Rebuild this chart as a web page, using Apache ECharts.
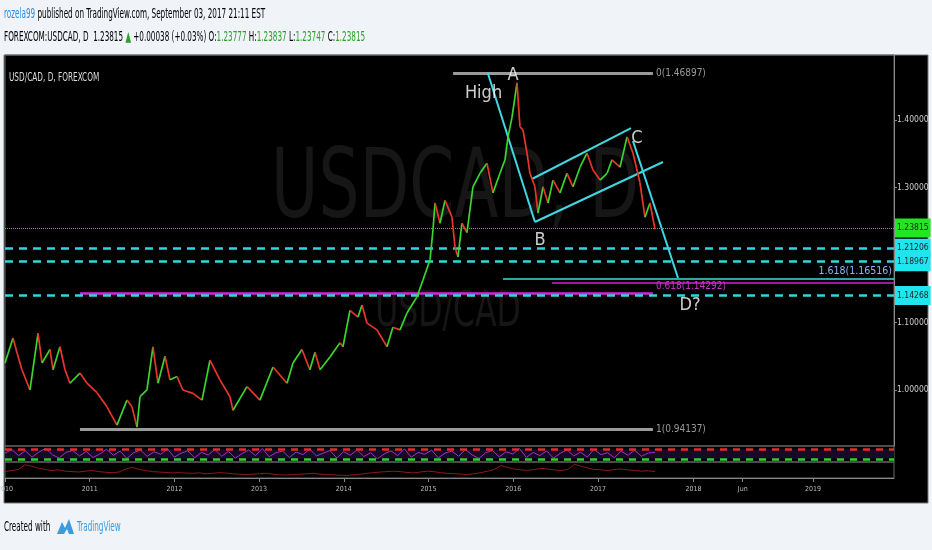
<!DOCTYPE html>
<html>
<head>
<meta charset="utf-8">
<script src="https://cdn.jsdelivr.net/npm/echarts@6/dist/echarts.min.js"></script>
<style>
html, body { margin: 0; padding: 0; background: #f0f3f7; }
#chart { width: 932px; height: 550px; }
</style>
</head>
<body>
<div id="chart"></div>
<script>
// 日线收盘价（按年份小数记时间，读图估计）
const priceDates = [2010.00, 2010.094, 2010.142, 2010.20, 2010.295, 2010.39, 2010.437, 2010.531, 2010.567, 2010.649,
  2010.708, 2010.767, 2010.885, 2010.968, 2011.086, 2011.204, 2011.322, 2011.44, 2011.50, 2011.558,
  2011.594, 2011.676, 2011.747, 2011.806, 2011.889, 2011.948, 2012.031, 2012.10, 2012.22, 2012.326,
  2012.42, 2012.538, 2012.656, 2012.692, 2012.857, 2013.01, 2013.164, 2013.33, 2013.40, 2013.506,
  2013.60, 2013.66, 2013.719, 2013.837, 2013.955, 2013.99, 2014.073, 2014.168, 2014.215, 2014.274,
  2014.392, 2014.51, 2014.58, 2014.664, 2014.746, 2014.864, 2014.935, 2015.018, 2015.053, 2015.077,
  2015.136, 2015.195, 2015.277, 2015.313, 2015.348, 2015.395, 2015.454, 2015.525, 2015.608, 2015.69,
  2015.761, 2015.844, 2015.903, 2015.939, 2015.986, 2016.045, 2016.08, 2016.116, 2016.163, 2016.198,
  2016.257, 2016.293, 2016.352, 2016.411, 2016.47, 2016.553, 2016.635, 2016.706, 2016.789, 2016.871,
  2016.942, 2017.025, 2017.108, 2017.167, 2017.261, 2017.344, 2017.414, 2017.497, 2017.556, 2017.615,
  2017.674]
const priceCloses = [1.040, 1.077, 1.055, 1.030, 1.000, 1.084, 1.040, 1.060, 1.030, 1.064,
  1.030, 1.010, 1.025, 1.010, 0.996, 0.975, 0.948, 0.985, 0.975, 0.945,
  0.990, 1.000, 1.064, 1.010, 1.050, 1.015, 1.020, 1.000, 0.995, 0.985,
  1.044, 1.015, 0.990, 0.970, 1.005, 0.985, 1.034, 1.010, 1.040, 1.060,
  1.030, 1.056, 1.030, 1.049, 1.070, 1.064, 1.118, 1.108, 1.126, 1.099,
  1.089, 1.064, 1.093, 1.089, 1.114, 1.138, 1.163, 1.193, 1.237, 1.277,
  1.247, 1.281, 1.256, 1.212, 1.197, 1.247, 1.233, 1.301, 1.321, 1.336,
  1.292, 1.321, 1.341, 1.375, 1.404, 1.455, 1.390, 1.385, 1.351, 1.321,
  1.301, 1.262, 1.301, 1.277, 1.311, 1.292, 1.321, 1.301, 1.330, 1.351,
  1.326, 1.311, 1.321, 1.341, 1.330, 1.375, 1.351, 1.307, 1.256, 1.277,
  1.23815]

// 时间轴刻度
const tickYears = [2010, 2011, 2012, 2013, 2014, 2015, 2016, 2017, 2018.13, 2018.71, 2019.54]
const tickLabels = ['2010', '2011', '2012', '2013', '2014', '2015', '2016', '2017', '2018', 'Jun', '2019']
const priceTicks = [1.0, 1.1, 1.3, 1.4]

// 右侧价格标签
const tagPrices = [1.23815, 1.21206, 1.18967, 1.14268]

// 斐波那契 / 画线
const fibStart = 2010.885
const fibTopStart = 2015.29
const fibEnd = 2017.65
const fibTop = 1.46897
const fibBottom = 0.94137
const fib618 = 1.14268
const extLevel = 1.16516
const extStart = 2015.88
const rayLevel = 1.1585
const rayStart = 2016.458
const trendLines = [
  [[2015.70, 1.4696], [2016.257, 1.2489]],
  [[2016.257, 1.2489], [2017.768, 1.3378]],
  [[2016.222, 1.3126], [2017.391, 1.3881]],
  [[2017.414, 1.3689], [2017.946, 1.1659]]
]
const waveNames = ['High', 'A', 'B', 'C', 'D?']
const waveX = [2015.65, 2015.998, 2016.317, 2017.461, 2018.087]
const waveY = [1.440, 1.4667, 1.2222, 1.3733, 1.1259]

// 指标
const oscValues = [55, 78, 40, 70, 30, 62, 85, 45, 25, 60, 72, 38, 66, 28, 50, 80, 42, 68, 22, 58,
  75, 35, 64, 48, 82, 30, 55, 70, 26, 60, 44, 78, 36, 66, 24, 52, 74, 40, 85, 33,
  58, 68, 28, 62, 46, 80, 38, 55, 72, 25, 64, 42, 76, 34, 58, 20, 50, 70, 40, 82,
  30, 60, 48, 74, 26, 56, 68, 36, 78, 44, 22, 58, 72, 32, 64, 50, 84, 28, 60, 40,
  70, 24, 54, 76, 38, 62, 30, 80, 46, 58, 26, 68, 42, 74, 36, 56, 60]
const lowerValues = [50, 55, 60, 82, 75, 66, 60, 55, 58, 52, 50, 48, 52, 55, 50, 47, 45, 48, 62, 70,
  60, 55, 50, 48, 46, 44, 45, 43, 42, 44, 40, 42, 45, 43, 40, 38, 36, 38, 40, 42,
  38, 35, 34, 36, 38, 40, 42, 38, 36, 35, 33, 32, 35, 38, 42, 45, 48, 50, 52, 50,
  46, 44, 48, 52, 50, 45, 42, 40, 38, 36, 40, 45, 52, 60, 78, 70, 62, 58, 56, 60,
  65, 62, 58, 55, 60, 84, 75, 66, 60, 58, 55, 60, 62, 58, 55, 52, 54, 50]

const FONT = "'Liberation Sans Narrow','DejaVu Sans Condensed','Liberation Sans',sans-serif"
const X_MIN = 2010
const X_MAX = 2020.496
const DATA_END = 2017.674

const segs = []
for (let i = 1; i < priceDates.length; i++) {
  segs.push([priceDates[i - 1], priceCloses[i - 1], priceDates[i], priceCloses[i]])
}
const toSeries = vals => vals.map((v, i) => [X_MIN + i * (DATA_END - X_MIN) / (vals.length - 1), v])

const myChart = echarts.init(document.querySelector('#chart'))

const tagStyle = (bg, i) => ({
  show: true, position: 'end', distance: 1, backgroundColor: bg, color: '#222',
  padding: [5, 2, 5, 2], fontSize: 8.5, fontFamily: FONT,
  formatter: tagPrices[i].toFixed(5)
})

const narrow = 0.575
const option = {
  animation: false,
  backgroundColor: '#f0f3f7',
  graphic: [
    { type: 'rect', z: -20, shape: { x: 4, y: 55, width: 924, height: 448 }, style: { fill: '#000', stroke: '#777', lineWidth: 1 } },
    { type: 'text', z: -15, x: 455, y: 192, scaleX: 0.74, style: { text: 'USDCAD, D', fill: '#161616', font: `97px ${FONT}`, align: 'center', verticalAlign: 'middle' } },
    { type: 'text', z: -15, x: 448, y: 313, scaleX: 0.7, style: { text: 'USD/CAD', fill: '#161616', font: `50px ${FONT}`, align: 'center', verticalAlign: 'middle' } },
    { type: 'text', x: 9, y: 78, scaleX: 0.68, style: { text: 'USD/CAD, D, FOREXCOM', fill: '#ddd', font: `12px ${FONT}`, verticalAlign: 'middle' } },
    {
      type: 'text', x: 4, y: 14, scaleX: narrow, style: {
        text: '{u|rozela99} published on TradingView.com, September 03, 2017 21:11 EST',
        fill: '#000', font: `14px ${FONT}`, verticalAlign: 'middle',
        rich: { u: { fill: '#2f8ce0', font: `14px ${FONT}` } }
      }
    },
    {
      type: 'text', x: 4, y: 37, scaleX: narrow, style: {
        text: 'FOREXCOM:USDCAD, D  1.23815 {g|▲} +0.00038 (+0.03%) O:{g|1.23777} H:{g|1.23837} L:{g|1.23747} C:{g|1.23815}',
        fill: '#000', font: `14px ${FONT}`, verticalAlign: 'middle',
        rich: { g: { fill: '#2ca02c', font: `14px ${FONT}` } }
      }
    },
    { type: 'text', x: 4, y: 527, scaleX: narrow, style: { text: 'Created with', fill: '#000', font: `14px ${FONT}`, verticalAlign: 'middle' } },
    { type: 'polygon', shape: { points: [[57, 534], [62, 522], [65, 528], [69, 519], [74, 534], [69, 534], [67, 529], [64, 534]] }, style: { fill: '#3a9be0' } },
    { type: 'text', x: 77, y: 527, scaleX: narrow, style: { text: 'TradingView', fill: '#3a9be0', font: `14px ${FONT}`, verticalAlign: 'middle' } }
  ],
  grid: [
    { left: 5, top: 55, width: 889, height: 391, show: true, borderColor: '#666', borderWidth: 1, outerBoundsMode: 'none' },
    { left: 5, top: 446, width: 889, height: 16, show: true, borderColor: '#666', borderWidth: 1, outerBoundsMode: 'none' },
    { left: 5, top: 462, width: 889, height: 16, show: true, borderColor: '#666', borderWidth: 1, outerBoundsMode: 'none' }
  ],
  xAxis: [
    { gridIndex: 0, type: 'value', min: X_MIN, max: X_MAX, show: false },
    { gridIndex: 1, type: 'value', min: X_MIN, max: X_MAX, show: false },
    {
      gridIndex: 2, type: 'value', min: X_MIN, max: X_MAX,
      axisLine: { lineStyle: { color: '#888' } },
      axisTick: { customValues: tickYears, length: 4, lineStyle: { color: '#888' } },
      axisLabel: {
        customValues: tickYears, color: '#bbb', fontSize: 7, fontFamily: FONT, margin: 8,
        formatter: v => tickLabels[tickYears.indexOf(v)]
      },
      splitLine: { show: false }
    }
  ],
  yAxis: [
    {
      gridIndex: 0, type: 'value', position: 'right', min: 0.917, max: 1.4963,
      axisLine: { show: true, lineStyle: { color: '#888' } },
      axisTick: { show: true, customValues: priceTicks, length: 3, lineStyle: { color: '#888' } },
      axisLabel: { customValues: priceTicks, color: '#ccc', fontSize: 8.5, fontFamily: FONT, margin: 3, formatter: v => v.toFixed(5) },
      splitLine: { show: false }
    },
    { gridIndex: 1, type: 'value', min: 0, max: 100, show: false },
    { gridIndex: 2, type: 'value', min: 20, max: 95, show: false }
  ],
  series: [
    {
      // 画线工具
      type: 'line', xAxisIndex: 0, yAxisIndex: 0, data: [], z: 3, silent: true,
      markLine: {
        symbol: 'none', silent: true, animation: false,
        data: [
          [{ coord: [fibTopStart, fibTop], lineStyle: { color: '#9a9a9a', width: 3, type: 'solid' },
             label: { show: true, position: 'end', formatter: '0(1.46897)', color: '#9a9a9a', fontSize: 10, fontFamily: FONT, distance: 3 } },
           { coord: [fibEnd, fibTop] }],
          [{ coord: [fibStart, fibBottom], lineStyle: { color: '#9a9a9a', width: 3, type: 'solid' },
             label: { show: true, position: 'end', formatter: '1(0.94137)', color: '#9a9a9a', fontSize: 10, fontFamily: FONT, distance: 3 } },
           { coord: [fibEnd, fibBottom] }],
          [{ coord: [fibStart, fib618], lineStyle: { color: '#e020e0', width: 2.5, type: 'solid' },
             label: { show: true, position: 'end', formatter: '0.618(1.14292)', color: '#d030d0', fontSize: 10, fontFamily: FONT, distance: 3, offset: [0, -7] } },
           { coord: [fibEnd, fib618] }],
          [{ coord: [rayStart, rayLevel], lineStyle: { color: '#d020d0', width: 1.5, type: 'solid' }, label: { show: false } },
           { coord: [X_MAX, rayLevel] }],
          [{ coord: [extStart, extLevel], lineStyle: { color: '#40d8e4', width: 1.5, type: 'solid' },
             label: { show: true, position: 'insideEndTop', formatter: '1.618(1.16516)', color: '#8fb4ff', fontSize: 10.5, fontFamily: FONT, distance: 2 } },
           { coord: [X_MAX, extLevel] }],
          ...trendLines.map(l => [
            { coord: l[0], lineStyle: { color: '#40d8e4', width: 2, type: 'solid' }, label: { show: false } },
            { coord: l[1] }
          ])
        ]
      }
    },
    {
      // 水平价位
      type: 'line', xAxisIndex: 0, yAxisIndex: 0, data: [], z: 4, silent: true,
      markLine: {
        symbol: 'none', silent: true, animation: false,
        data: [
          { yAxis: tagPrices[0], lineStyle: { color: '#2ecc2e', width: 1, type: 'dotted' }, label: tagStyle('#22e622', 0) },
          { yAxis: tagPrices[1], lineStyle: { color: '#2fd6e0', width: 2.5, type: [8, 6] }, label: tagStyle('#22e4ee', 1) },
          { yAxis: tagPrices[2], lineStyle: { color: '#2fd6e0', width: 2.5, type: [8, 6] }, label: tagStyle('#22e4ee', 2) },
          { yAxis: tagPrices[3], lineStyle: { color: '#2fd6e0', width: 2.5, type: [8, 6] }, label: tagStyle('#22e4ee', 3) }
        ]
      }
    },
    {
      // 价格
      type: 'custom', xAxisIndex: 0, yAxisIndex: 0, z: 5, silent: true,
      encode: { x: [0, 2], y: [1, 3] },
      data: segs,
      renderItem: (params, api) => {
        const p0 = api.coord([api.value(0), api.value(1)])
        const p1 = api.coord([api.value(2), api.value(3)])
        const up = api.value(3) >= api.value(1)
        return {
          type: 'line',
          shape: { x1: p0[0], y1: p0[1], x2: p1[0], y2: p1[1] },
          style: { stroke: up ? '#3ad62e' : '#e8372a', lineWidth: 1.7 }
        }
      }
    },
    {
      type: 'scatter', xAxisIndex: 0, yAxisIndex: 0, z: 6, silent: true, symbolSize: 1,
      itemStyle: { color: 'rgba(0,0,0,0)' },
      data: waveNames.map((n, i) => ({ name: n, value: [waveX[i], waveY[i]] })),
      label: { show: true, position: 'inside', formatter: '{b}', color: '#fff', fontSize: 18, fontFamily: FONT }
    },
    {
      type: 'line', xAxisIndex: 1, yAxisIndex: 1, showSymbol: false, silent: true,
      data: toSeries(oscValues),
      lineStyle: { color: '#a030c8', width: 1 },
      markArea: { silent: true, itemStyle: { color: '#170a26' }, data: [[{ yAxis: 20 }, { yAxis: 80 }]] },
      markLine: {
        symbol: 'none', silent: true, label: { show: false },
        data: [
          { yAxis: 80, lineStyle: { color: '#e52a2a', width: 2.5, type: [7, 6] } },
          { yAxis: 20, lineStyle: { color: '#2ed22e', width: 2.5, type: [7, 6] } }
        ]
      }
    },
    {
      type: 'line', xAxisIndex: 2, yAxisIndex: 2, showSymbol: false, silent: true,
      data: toSeries(lowerValues),
      lineStyle: { color: '#8e1a1a', width: 1 }
    }
  ]
}
myChart.setOption(option)
window.addEventListener('resize', function () {
  myChart.resize()
})
</script>
</body>
</html>
